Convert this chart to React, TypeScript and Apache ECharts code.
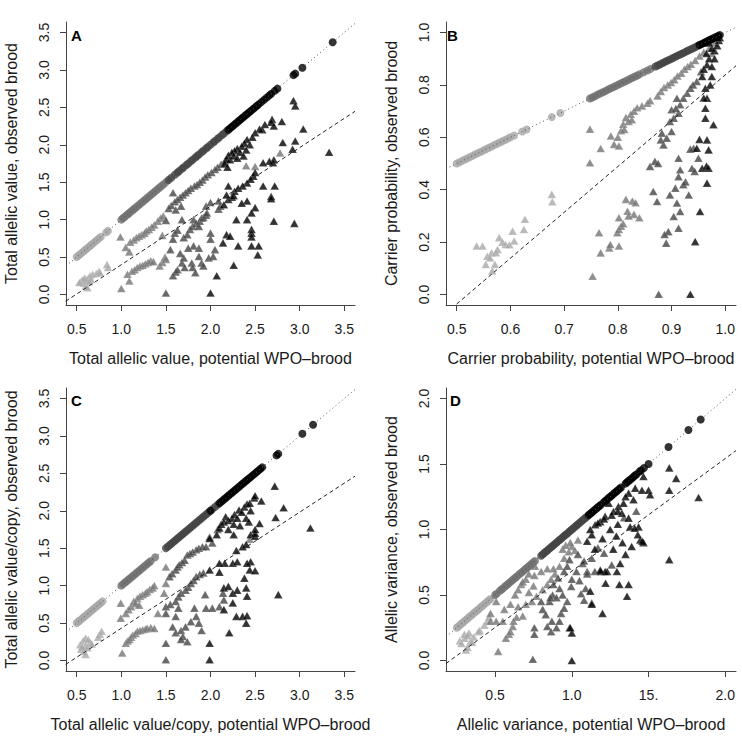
import React, { useEffect, useRef } from "react";
import * as echarts from "echarts";

const FONT = '"Liberation Sans", Arial, Helvetica, sans-serif';
const SHADES = ["#a8a8a8", "#737373", "#444444", "#000000"];

// ---------- Panel A ----------
const aCircLight = [0.5, 0.52, 0.54, 0.55, 0.57, 0.59, 0.6, 0.62, 0.64, 0.66, 0.67, 0.69, 0.71, 0.73, 0.75, 0.77, 0.83, 0.85];
const aCircMid = [1.0, 1.02, 1.03, 1.05, 1.07, 1.08, 1.1, 1.12, 1.14, 1.15, 1.17, 1.19, 1.21, 1.23, 1.25, 1.27, 1.29, 1.31, 1.33, 1.35, 1.37, 1.39, 1.41, 1.43, 1.45, 1.47, 1.5];
const aCircDark = [1.53, 1.56, 1.6, 1.63, 1.65, 1.68, 1.7, 1.73, 1.75, 1.78, 1.8, 1.83, 1.85, 1.87, 1.9, 1.92, 1.95, 1.97, 2.0, 2.03, 2.05, 2.08, 2.1, 2.13, 2.15, 2.18];
const aCircBlack = [2.2, 2.22, 2.24, 2.26, 2.28, 2.3, 2.32, 2.34, 2.36, 2.38, 2.4, 2.42, 2.44, 2.46, 2.48, 2.5, 2.52, 2.54, 2.57, 2.6, 2.63, 2.66, 2.68, 2.72, 2.75, 2.93, 2.95, 3.03, 3.37];
const aTriLight = [[0.55, 0.18], [0.57, 0.2], [0.58, 0.15], [0.6, 0.11], [0.61, 0.19], [0.62, 0.09], [0.63, 0.22], [0.65, 0.25], [0.66, 0.2], [0.68, 0.27], [0.72, 0.28], [0.75, 0.31], [0.76, 0.29], [0.84, 0.4], [0.85, 0.36], [0.59, 0.22], [0.64, 0.17], [0.53, 0.16]];
const aTriMid = [[0.99, 0.77], [1.05, 0.63], [1.09, 0.57], [1.1, 0.7], [1.14, 0.73], [1.17, 0.76], [1.2, 0.78], [1.23, 0.8], [1.26, 0.82], [1.28, 0.85], [1.31, 0.87], [1.34, 0.9], [1.37, 0.93], [1.41, 0.98], [1.44, 1.02], [1.47, 1.05], [1.46, 0.79], [1.0, 0.08], [1.07, 0.27], [1.09, 0.18], [1.12, 0.31], [1.15, 0.33], [1.18, 0.36], [1.21, 0.38], [1.24, 0.39], [1.27, 0.41], [1.3, 0.43], [1.33, 0.45], [1.36, 0.44], [1.43, 0.38], [1.46, 0.43], [1.49, 0.5], [1.5, 0.47], [2.5, 1.71], [2.4, 1.72], [2.78, 1.89]];
const aTriDark = [[1.53, 1.15], [1.56, 1.19], [1.6, 1.24], [1.63, 1.27], [1.66, 1.3], [1.69, 1.33], [1.72, 1.36], [1.75, 1.39], [1.78, 1.42], [1.82, 1.45], [1.85, 1.47], [1.88, 1.5], [1.91, 1.53], [1.94, 1.57], [1.97, 1.6], [2.01, 1.63], [2.05, 1.67], [2.08, 1.7], [2.12, 1.74], [2.16, 1.78], [1.58, 1.36], [1.61, 1.13], [1.67, 1.18], [1.5, 0.99], [1.58, 0.25], [1.61, 0.3], [1.63, 0.33], [1.68, 0.42], [1.7, 0.49], [1.71, 0.36], [1.79, 0.42], [1.8, 0.36], [1.83, 0.29], [1.87, 0.51], [1.9, 0.42], [1.92, 0.38], [1.98, 0.49], [2.03, 0.51], [1.87, 0.62], [1.81, 0.65], [1.68, 1.0], [1.58, 0.74], [1.6, 0.82], [1.63, 0.86], [1.7, 0.76], [1.74, 0.8], [1.77, 0.87], [1.8, 0.91], [1.81, 1.0], [1.84, 0.95], [1.87, 0.91], [1.88, 0.98], [1.9, 1.02], [1.92, 1.03], [1.95, 1.06], [1.96, 1.09], [1.95, 1.18], [2.0, 0.82], [2.0, 0.74], [2.09, 1.14], [2.11, 1.18], [2.09, 1.25], [2.0, 1.23], [1.5, 0.02], [1.66, 0.55], [1.75, 0.62], [2.05, 0.6], [1.55, 0.6]];
const aTriBlack = [[2.93, 2.59], [2.95, 2.52], [3.04, 2.21], [2.95, 2.05], [2.92, 1.94], [3.33, 1.9], [2.81, 2.03], [2.8, 2.31], [2.69, 2.34], [2.68, 2.3], [2.71, 2.25], [2.61, 2.27], [2.58, 2.2], [2.55, 2.21], [2.5, 2.16], [2.47, 2.1], [2.41, 2.07], [2.44, 2.0], [2.38, 2.02], [2.35, 1.98], [2.3, 1.95], [2.27, 1.92], [2.24, 1.9], [2.2, 1.86], [2.18, 1.81], [2.16, 1.75], [2.19, 1.7], [2.22, 1.8], [2.26, 1.85], [2.33, 1.9], [2.4, 1.93], [2.37, 1.85], [2.3, 1.82], [2.71, 1.8], [2.7, 1.76], [2.66, 1.78], [2.59, 1.76], [2.59, 1.45], [2.72, 1.45], [2.68, 1.31], [2.68, 1.28], [2.71, 0.98], [2.94, 0.95], [2.41, 1.25], [2.5, 1.16], [2.46, 1.09], [2.41, 1.0], [2.46, 0.87], [2.46, 0.82], [2.46, 0.77], [2.46, 0.65], [2.54, 0.65], [2.53, 0.53], [2.31, 0.65], [2.29, 1.0], [2.18, 0.8], [2.14, 0.69], [2.26, 0.39], [2.07, 0.25], [2.0, 0.02], [2.27, 1.38], [2.31, 1.42], [2.48, 1.58], [2.5, 1.63], [2.45, 1.54], [2.41, 1.49], [2.36, 1.45], [2.2, 1.45], [2.2, 1.27], [2.24, 1.3], [2.18, 1.33], [2.26, 1.32], [2.15, 1.2], [2.35, 1.22], [2.22, 0.78]];
const aDotted = [[0.38, 0.38], [3.62, 3.62]];
const aDashed = [[0.376, -0.09], [3.62, 2.447]];

// ---------- Panel B ----------
const bCircLight = [0.5, 0.505, 0.51, 0.515, 0.52, 0.525, 0.53, 0.535, 0.54, 0.545, 0.55, 0.555, 0.56, 0.565, 0.57, 0.575, 0.58, 0.585, 0.59, 0.595, 0.6, 0.607, 0.622, 0.63, 0.677, 0.693];
const bCircMid = [0.748, 0.752, 0.756, 0.76, 0.764, 0.768, 0.772, 0.776, 0.78, 0.784, 0.788, 0.792, 0.796, 0.8, 0.804, 0.808, 0.812, 0.816, 0.82, 0.824, 0.828, 0.832, 0.836, 0.84, 0.848, 0.855, 0.861];
const bCircDark = [0.87, 0.874, 0.878, 0.882, 0.886, 0.89, 0.894, 0.898, 0.902, 0.906, 0.91, 0.914, 0.918, 0.922, 0.926, 0.93, 0.934, 0.938, 0.942, 0.946, 0.95];
const bCircBlack = [0.952, 0.956, 0.96, 0.963, 0.966, 0.969, 0.972, 0.975, 0.978, 0.981, 0.984, 0.987, 0.99];
const bTriLight = [[0.537, 0.185], [0.548, 0.185], [0.557, 0.146], [0.554, 0.115], [0.565, 0.159], [0.571, 0.115], [0.566, 0.09], [0.579, 0.217], [0.576, 0.172], [0.591, 0.191], [0.604, 0.242], [0.607, 0.204], [0.625, 0.248], [0.627, 0.287], [0.677, 0.382], [0.678, 0.354], [0.562, 0.14], [0.585, 0.2], [0.598, 0.19], [0.573, 0.16]];
const bTriMid = [[0.748, 0.631], [0.748, 0.503], [0.753, 0.07], [0.768, 0.557], [0.787, 0.605], [0.793, 0.573], [0.802, 0.567], [0.8, 0.6], [0.806, 0.625], [0.81, 0.65], [0.815, 0.675], [0.82, 0.66], [0.824, 0.688], [0.83, 0.7], [0.836, 0.713], [0.845, 0.72], [0.855, 0.73], [0.86, 0.74], [0.874, 0.758], [0.88, 0.775], [0.886, 0.79], [0.893, 0.8], [0.899, 0.809], [0.905, 0.82], [0.911, 0.834], [0.918, 0.845], [0.924, 0.86], [0.93, 0.87], [0.936, 0.879], [0.944, 0.893], [0.952, 0.91], [0.96, 0.925], [0.97, 0.94], [0.975, 0.92], [0.98, 0.96], [0.812, 0.63], [0.826, 0.667], [0.765, 0.236], [0.768, 0.159], [0.784, 0.178], [0.786, 0.191], [0.802, 0.185], [0.799, 0.236], [0.802, 0.248], [0.806, 0.261], [0.802, 0.293], [0.818, 0.318], [0.815, 0.363], [0.827, 0.357], [0.833, 0.35], [0.83, 0.306], [0.84, 0.293], [0.81, 0.27], [0.82, 0.3]];
const bTriDark = [[0.866, 0.393], [0.873, 0.355], [0.86, 0.489], [0.869, 0.508], [0.875, 0.5], [0.882, 0.616], [0.885, 0.571], [0.88, 0.59], [0.891, 0.597], [0.9, 0.622], [0.897, 0.66], [0.904, 0.673], [0.913, 0.692], [0.916, 0.724], [0.922, 0.749], [0.929, 0.768], [0.935, 0.787], [0.9, 0.705], [0.908, 0.71], [0.913, 0.52], [0.916, 0.476], [0.913, 0.45], [0.922, 0.419], [0.926, 0.43], [0.907, 0.406], [0.897, 0.38], [0.91, 0.349], [0.916, 0.317], [0.904, 0.298], [0.894, 0.24], [0.89, 0.196], [0.887, 0.229], [0.913, 0.253], [0.932, 0.38], [0.938, 0.482], [0.943, 0.47], [0.95, 0.52], [0.941, 0.558], [0.935, 0.555], [0.876, 0.001], [0.947, 0.813], [0.91, 0.749], [0.94, 0.8], [0.955, 0.85]];
const bTriBlack = [[0.935, 0.001], [0.944, 0.202], [0.953, 0.317], [0.966, 0.425], [0.957, 0.482], [0.969, 0.482], [0.965, 0.49], [0.947, 0.558], [0.969, 0.552], [0.966, 0.59], [0.952, 0.592], [0.978, 0.648], [0.963, 0.673], [0.963, 0.711], [0.966, 0.749], [0.963, 0.787], [0.972, 0.8], [0.975, 0.832], [0.957, 0.832], [0.966, 0.877], [0.96, 0.86], [0.97, 0.9], [0.975, 0.87], [0.98, 0.93], [0.985, 0.95], [0.975, 0.94], [0.965, 0.92], [0.988, 0.97], [0.99, 0.98], [0.97, 0.96], [0.98, 0.9], [0.96, 0.75]];
const bDotted = [[0.48, 0.48], [1.02, 1.02]];
const bDashed = [[0.48, -0.071], [1.02, 0.873]];

// ---------- Panel C ----------
const cCircLight = [0.5, 0.52, 0.53, 0.55, 0.57, 0.58, 0.6, 0.62, 0.63, 0.65, 0.67, 0.68, 0.7, 0.72, 0.74, 0.75, 0.77, 0.79];
const cCircMid = [1.0, 1.02, 1.04, 1.05, 1.07, 1.09, 1.11, 1.13, 1.15, 1.17, 1.19, 1.21, 1.23, 1.25, 1.27, 1.29, 1.31, 1.33, 1.38];
const cCircDark = [1.5, 1.52, 1.54, 1.56, 1.58, 1.6, 1.62, 1.64, 1.66, 1.68, 1.7, 1.72, 1.74, 1.76, 1.78, 1.8, 1.82, 1.84, 1.86, 1.88, 1.9, 1.92, 1.94, 1.96, 1.98, 2.02, 2.05, 2.08];
const cCircBlack = [2.0, 2.1, 2.12, 2.14, 2.16, 2.18, 2.2, 2.22, 2.24, 2.26, 2.28, 2.3, 2.32, 2.34, 2.36, 2.38, 2.4, 2.42, 2.44, 2.46, 2.48, 2.5, 2.52, 2.54, 2.56, 2.58, 2.74, 2.76, 3.03, 3.15];
const cTriLight = [[0.54, 0.21], [0.57, 0.26], [0.6, 0.3], [0.55, 0.15], [0.58, 0.12], [0.6, 0.2], [0.62, 0.17], [0.65, 0.24], [0.63, 0.28], [0.56, 0.18], [0.6, 0.08], [0.76, 0.35], [0.78, 0.39], [0.74, 0.31], [0.67, 0.22]];
const cTriMid = [[0.994, 0.766], [0.994, 0.566], [1.01, 0.1], [1.05, 0.63], [1.08, 0.68], [1.11, 0.72], [1.14, 0.79], [1.16, 0.76], [1.18, 0.83], [1.2, 0.74], [1.21, 0.86], [1.24, 0.88], [1.27, 0.9], [1.29, 0.92], [1.32, 0.95], [1.35, 0.97], [1.37, 1.0], [1.05, 0.23], [1.07, 0.26], [1.09, 0.28], [1.11, 0.31], [1.13, 0.34], [1.16, 0.36], [1.18, 0.39], [1.21, 0.4], [1.24, 0.41], [1.27, 0.42], [1.29, 0.43], [1.33, 0.44], [1.37, 0.43], [1.41, 0.63], [1.5, 1.25], [1.5, 1.03], [1.48, 0.9], [2.44, 1.62]];
const cTriDark = [[1.54, 1.12], [1.57, 1.16], [1.61, 1.21], [1.63, 1.25], [1.65, 1.28], [1.68, 1.31], [1.71, 1.34], [1.74, 1.41], [1.77, 1.43], [1.8, 1.45], [1.84, 1.48], [1.87, 1.5], [1.91, 1.52], [1.95, 1.52], [2.02, 1.57], [2.08, 1.75], [1.99, 1.65], [1.5, 0.72], [1.5, 0.63], [1.5, 0.23], [1.5, 0.01], [1.55, 0.75], [1.61, 0.79], [1.64, 0.85], [1.67, 0.9], [1.72, 0.94], [1.75, 0.98], [1.78, 1.03], [1.81, 1.07], [1.84, 1.12], [1.88, 1.15], [1.92, 1.17], [1.61, 0.59], [1.575, 0.45], [1.61, 0.37], [1.67, 0.4], [1.69, 0.32], [1.72, 0.45], [1.78, 0.52], [1.84, 0.59], [1.95, 0.7], [2.02, 0.7], [2.1, 0.72], [2.15, 0.81], [1.67, 0.28], [1.74, 0.25], [1.87, 0.5], [2.14, 0.9], [1.82, 0.7], [1.94, 0.88], [1.9, 0.4], [1.64, 0.7]];
const cTriBlack = [[1.99, 0.23], [1.99, 0.01], [2.21, 0.37], [2.15, 0.68], [2.25, 0.77], [2.29, 0.59], [2.36, 0.59], [2.4, 0.5], [2.41, 0.6], [2.15, 0.97], [2.2, 0.99], [2.25, 0.9], [2.3, 0.94], [2.4, 0.97], [2.41, 0.86], [2.38, 1.1], [2.44, 1.21], [2.5, 1.2], [2.45, 1.32], [2.41, 1.3], [2.25, 1.3], [2.16, 1.3], [2.1, 1.3], [1.99, 1.21], [2.1, 1.18], [2.3, 1.32], [2.36, 1.52], [2.29, 1.47], [2.4, 1.55], [2.45, 1.68], [2.5, 1.66], [2.55, 1.83], [2.5, 1.7], [1.99, 1.63], [2.1, 1.77], [2.12, 1.82], [2.17, 1.92], [2.15, 1.85], [2.2, 1.87], [2.24, 1.9], [2.27, 1.95], [2.32, 2.01], [2.3, 1.9], [2.35, 1.98], [2.38, 2.05], [2.41, 2.09], [2.44, 2.1], [2.49, 2.17], [2.5, 2.2], [2.57, 2.13], [2.45, 2.0], [2.4, 1.9], [2.26, 1.82], [2.2, 1.75], [2.33, 1.8], [2.72, 2.33], [2.73, 1.91], [2.82, 2.04], [2.76, 0.88], [3.12, 1.77], [2.26, 1.68], [2.07, 1.68], [2.5, 1.75], [2.43, 1.85]];
const cDotted = [[0.38, 0.38], [3.62, 3.62]];
const cDashed = [[0.376, -0.053], [3.62, 2.462]];

// ---------- Panel D ----------
const dCircLight = [0.25, 0.26, 0.27, 0.28, 0.29, 0.3, 0.31, 0.32, 0.33, 0.34, 0.35, 0.36, 0.37, 0.38, 0.39, 0.4, 0.41, 0.42, 0.43, 0.44, 0.45, 0.46, 0.47];
const dCircMid = [0.5, 0.51, 0.53, 0.54, 0.55, 0.56, 0.57, 0.58, 0.59, 0.6, 0.61, 0.62, 0.63, 0.64, 0.65, 0.66, 0.67, 0.68, 0.69, 0.7, 0.71, 0.72, 0.73, 0.74, 0.75, 0.76];
const dCircDark = [0.8, 0.81, 0.82, 0.83, 0.84, 0.85, 0.86, 0.87, 0.88, 0.89, 0.9, 0.91, 0.92, 0.93, 0.94, 0.95, 0.96, 0.97, 0.98, 0.99, 1.0, 1.01, 1.02, 1.03, 1.04, 1.05, 1.06, 1.07, 1.08, 1.09, 1.1];
const dCircBlack = [1.11, 1.12, 1.13, 1.14, 1.15, 1.16, 1.17, 1.18, 1.19, 1.21, 1.22, 1.23, 1.24, 1.25, 1.26, 1.27, 1.28, 1.29, 1.3, 1.31, 1.32, 1.35, 1.36, 1.37, 1.38, 1.39, 1.4, 1.41, 1.42, 1.44, 1.45, 1.47, 1.5, 1.63, 1.76, 1.84];
const dTriLight = [[0.27, 0.15], [0.28, 0.13], [0.3, 0.17], [0.31, 0.08], [0.32, 0.1], [0.33, 0.21], [0.34, 0.145], [0.36, 0.18], [0.39, 0.22], [0.4, 0.23], [0.43, 0.27], [0.45, 0.3], [0.46, 0.33], [0.3, 0.2], [0.35, 0.14], [0.32, 0.19]];
const dTriMid = [[0.507, 0.45], [0.507, 0.3], [0.52, 0.07], [0.56, 0.39], [0.6, 0.43], [0.63, 0.5], [0.65, 0.54], [0.67, 0.58], [0.7, 0.62], [0.72, 0.66], [0.756, 0.65], [0.75, 0.57], [0.72, 0.52], [0.65, 0.41], [0.64, 0.33], [0.68, 0.34], [0.615, 0.26], [0.59, 0.2], [0.57, 0.17], [0.6, 0.22], [0.62, 0.3], [0.7, 0.43], [0.74, 0.45], [0.77, 0.49], [0.81, 0.54], [0.84, 0.58], [0.865, 0.62], [0.89, 0.66], [0.92, 0.72], [0.95, 0.78], [0.98, 0.83], [1.0, 0.87], [1.04, 0.92], [0.94, 0.85], [0.96, 0.88], [0.99, 0.9], [1.02, 0.84], [0.88, 0.7], [0.84, 0.7], [0.8, 0.68], [0.76, 0.72], [0.73, 0.73], [0.55, 0.3], [0.47, 0.3], [0.47, 0.36], [0.68, 0.6]];
const dTriDark = [[0.756, 0.25], [0.756, 0.2], [0.746, 0.01], [0.81, 0.39], [0.83, 0.35], [0.84, 0.26], [0.865, 0.22], [0.87, 0.3], [0.855, 0.45], [0.875, 0.5], [0.9, 0.48], [0.92, 0.55], [0.93, 0.36], [0.95, 0.4], [0.97, 0.45], [0.996, 0.565], [1.0, 0.62], [1.03, 0.68], [1.06, 0.51], [1.08, 0.46], [1.09, 0.55], [0.985, 0.25], [0.97, 0.72], [0.985, 0.77], [1.07, 0.74], [1.1, 0.68], [1.13, 0.44], [1.15, 0.68], [1.13, 0.78], [1.17, 0.86], [1.21, 0.82], [1.26, 0.73], [1.05, 0.61], [1.1, 0.66], [0.91, 0.63], [0.95, 0.68], [0.86, 0.48], [0.8, 0.45], [0.9, 0.25], [0.92, 0.3], [1.04, 0.81], [1.08, 0.76], [1.42, 1.14], [1.34, 1.09], [0.88, 0.58], [0.94, 0.5]];
const dTriBlack = [[1.0, 0.0], [1.0, 0.21], [0.99, 0.25], [1.2, 0.36], [1.12, 0.53], [1.13, 0.43], [1.22, 0.59], [1.31, 0.58], [1.37, 0.58], [1.36, 0.49], [1.19, 0.68], [1.23, 0.68], [1.217, 0.68], [1.185, 0.69], [1.294, 0.68], [1.315, 0.74], [1.35, 0.81], [1.39, 0.87], [1.446, 0.92], [1.467, 0.9], [1.38, 1.02], [1.435, 1.02], [1.37, 1.087], [1.326, 1.125], [1.152, 1.036], [1.185, 1.06], [1.217, 1.1], [1.272, 1.137], [1.304, 1.176], [1.337, 1.2], [1.37, 1.278], [1.402, 1.227], [1.413, 1.316], [1.457, 1.3], [1.5, 1.3], [1.51, 1.265], [1.467, 1.405], [1.635, 1.47], [1.68, 1.39], [1.635, 1.3], [1.826, 1.244], [1.635, 0.77], [1.13, 0.96], [1.1, 0.91], [1.17, 1.05], [1.21, 1.08], [1.26, 1.11], [1.3, 1.14], [1.25, 1.0], [1.29, 0.95], [1.33, 0.9], [1.2, 0.93], [1.15, 0.85], [1.27, 0.85], [1.3, 1.04], [1.41, 1.01], [1.43, 0.96], [1.46, 0.91], [1.12, 1.0], [1.24, 1.2], [1.35, 1.25]];
const dDotted = [[0.18, 0.18], [2.07, 2.07]];
const dDashed = [[0.18, -0.023], [2.07, 1.602]];

// ---------- Axes ----------
const xTicksAC = [0.5, 1.0, 1.5, 2.0, 2.5, 3.0, 3.5];
const xLabelsAC = ["0.5", "1.0", "1.5", "2.0", "2.5", "3.0", "3.5"];
const yTicksAC = [0, 0.5, 1.0, 1.5, 2.0, 2.5, 3.0, 3.5];
const yLabelsAC = ["0.0", "0.5", "1.0", "1.5", "2.0", "2.5", "3.0", "3.5"];
const xTicksB = [0.5, 0.6, 0.7, 0.8, 0.9, 1.0];
const xLabelsB = ["0.5", "0.6", "0.7", "0.8", "0.9", "1.0"];
const yTicksB = [0, 0.2, 0.4, 0.6, 0.8, 1.0];
const yLabelsB = ["0.0", "0.2", "0.4", "0.6", "0.8", "1.0"];
const xTicksD = [0.5, 1.0, 1.5, 2.0];
const xLabelsD = ["0.5", "1.0", "15.", "2.0"];
const yTicksD = [0, 0.5, 1.0, 1.5, 2.0];
const yLabelsD = ["0.0", "0.5", "1.0", "1.5", "2.0"];

const panelLetters = ["A", "B", "C", "D"];
const xTitles = [
  "Total allelic value, potential WPO\u2013brood",
  "Carrier probability, potential WPO\u2013brood",
  "Total allelic value/copy, potential WPO\u2013brood",
  "Allelic variance, potential WPO\u2013brood",
];
const yTitles = [
  "Total allelic value, observed brood",
  "Carrier probability, observed brood",
  "Total allelic value/copy, observed brood",
  "Allelic variance, observed brood",
];

const TEXT = "#1a1a1a";
const AXIS = "#444444";

function labelFor(ticks: number[], labels: string[]) {
  return (v: number) => {
    for (let i = 0; i < ticks.length; i++) if (Math.abs(ticks[i] - v) < 1e-9) return labels[i];
    return "";
  };
}

function xAxis(i: number, min: number, max: number, ticks: number[], labels: string[], name: string) {
  return {
    type: "value", gridIndex: i, min, max, name, nameLocation: "middle", nameGap: 45,
    nameTextStyle: { fontSize: 16, color: TEXT, fontFamily: FONT },
    axisLine: { show: true, onZero: false, lineStyle: { color: AXIS, width: 1 } },
    axisTick: { show: true, length: 6, customValues: ticks, lineStyle: { color: AXIS, width: 1 } },
    axisLabel: { customValues: ticks, formatter: labelFor(ticks, labels), fontSize: 14, color: TEXT, fontFamily: FONT, margin: 17 },
    splitLine: { show: false },
  };
}

function yAxis(i: number, min: number, max: number, ticks: number[], labels: string[], name: string) {
  return {
    type: "value", gridIndex: i, min, max, name, nameLocation: "middle", nameGap: 47,
    nameTextStyle: { fontSize: 16, color: TEXT, fontFamily: FONT },
    axisLine: { show: true, onZero: false, lineStyle: { color: AXIS, width: 1 } },
    axisTick: { show: true, length: 6, customValues: ticks, lineStyle: { color: AXIS, width: 1 } },
    axisLabel: { customValues: ticks, formatter: labelFor(ticks, labels), rotate: 90, fontSize: 14, color: TEXT, fontFamily: FONT, margin: 15 },
    splitLine: { show: false },
  };
}

function panelSeries(i: number, circ: number[][], tri: number[][][], dotted: number[][], dashed: number[][]) {
  const s: any[] = [];
  tri.forEach((d, k) => {
    s.push({
      type: "scatter", xAxisIndex: i, yAxisIndex: i, symbol: "triangle", symbolSize: [8.6, 7.6],
      itemStyle: { color: SHADES[k], borderColor: "rgba(255,255,255,0.6)", borderWidth: 0.35 },
      data: d, silent: true, z: 2,
    });
  });
  circ.forEach((d, k) => {
    s.push({
      type: "scatter", xAxisIndex: i, yAxisIndex: i, symbol: "circle", symbolSize: 8,
      itemStyle: { color: SHADES[k] },
      data: d.map((v) => [v, v]), silent: true, z: 3,
    });
  });
  s.push({
    type: "line", xAxisIndex: i, yAxisIndex: i, data: dotted, symbol: "none", silent: true, z: 5, clip: true,
    lineStyle: { type: [1, 3], color: "#555555", width: 1 },
  });
  s.push({
    type: "line", xAxisIndex: i, yAxisIndex: i, data: dashed, symbol: "none", silent: true, z: 5, clip: true,
    lineStyle: { type: [4, 3], color: "#222222", width: 1 },
  });
  return s;
}

export default function App() {
  const ref = useRef<HTMLDivElement>(null);
  useEffect(() => {
    if (!ref.current) return;
    document.body.style.margin = "0";
    const chart = echarts.init(ref.current, undefined, { renderer: "svg" });
    const grids = [
      { left: 66, top: 22, width: 289, height: 283 },
      { left: 446, top: 22, width: 290, height: 283 },
      { left: 66, top: 388, width: 289, height: 283 },
      { left: 446, top: 388, width: 290, height: 283 },
    ];
    const letterPos = [[71, 35], [447, 35], [71, 400], [450, 400]];
    const option: any = {
      animation: false,
      backgroundColor: "#ffffff",
      grid: grids,
      xAxis: [
        xAxis(0, 0.38, 3.62, xTicksAC, xLabelsAC, xTitles[0]),
        xAxis(1, 0.48, 1.02, xTicksB, xLabelsB, xTitles[1]),
        xAxis(2, 0.38, 3.62, xTicksAC, xLabelsAC, xTitles[2]),
        xAxis(3, 0.18, 2.07, xTicksD, xLabelsD, xTitles[3]),
      ],
      yAxis: [
        yAxis(0, -0.14, 3.64, yTicksAC, yLabelsAC, yTitles[0]),
        yAxis(1, -0.04, 1.04, yTicksB, yLabelsB, yTitles[1]),
        yAxis(2, -0.14, 3.64, yTicksAC, yLabelsAC, yTitles[2]),
        yAxis(3, -0.08, 2.08, yTicksD, yLabelsD, yTitles[3]),
      ],
      series: [
        ...panelSeries(0, [aCircLight, aCircMid, aCircDark, aCircBlack], [aTriLight, aTriMid, aTriDark, aTriBlack], aDotted, aDashed),
        ...panelSeries(1, [bCircLight, bCircMid, bCircDark, bCircBlack], [bTriLight, bTriMid, bTriDark, bTriBlack], bDotted, bDashed),
        ...panelSeries(2, [cCircLight, cCircMid, cCircDark, cCircBlack], [cTriLight, cTriMid, cTriDark, cTriBlack], cDotted, cDashed),
        ...panelSeries(3, [dCircLight, dCircMid, dCircDark, dCircBlack], [dTriLight, dTriMid, dTriDark, dTriBlack], dDotted, dDashed),
      ],
      graphic: panelLetters.map((t, i) => ({
        type: "text", x: letterPos[i][0], y: letterPos[i][1], z: 10, silent: true,
        style: { text: t, fill: "#000", font: `bold 15px ${FONT}`, textVerticalAlign: "middle", verticalAlign: "middle" },
      })),
    };
    chart.setOption(option);
    return () => chart.dispose();
  }, []);
  return <div ref={ref} style={{ position: "absolute", left: 0, top: 0, width: 742, height: 737 }} />;
}
